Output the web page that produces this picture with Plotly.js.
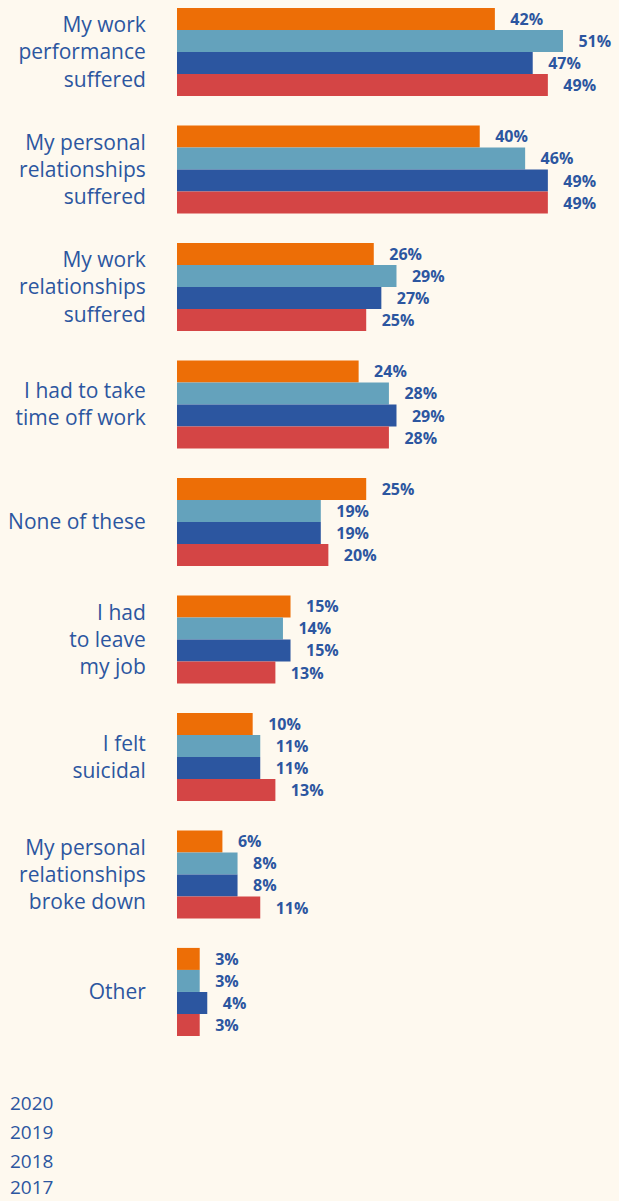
<!DOCTYPE html>
<html>
<head>
<meta charset="utf-8">
<script src="https://cdn.plot.ly/plotly-3.0.1.min.js"></script>
<style>html,body{margin:0;padding:0;background:#FEF9EF;}</style>
</head>
<body>
<div id="chart" style="width:619px;height:1201px;"></div>
<script>
const categories = [
  "My work<br>performance<br>suffered",
  "My personal<br>relationships<br>suffered",
  "My work<br>relationships<br>suffered",
  "I had to take<br>time off work",
  "None of these",
  "I had<br>to leave<br>my job",
  "I felt<br>suicidal",
  "My personal<br>relationships<br>broke down",
  "Other"
];
const years = ["2020", "2019", "2018", "2017"];
const v2020 = [42, 40, 26, 24, 25, 15, 10, 6, 3];
const v2019 = [51, 46, 29, 28, 19, 14, 11, 8, 3];
const v2018 = [47, 49, 27, 29, 19, 15, 11, 8, 4];
const v2017 = [49, 49, 25, 28, 20, 13, 13, 11, 3];

const seriesValues = [v2020, v2019, v2018, v2017];
const colors = ["#ED6E06", "#64A2BC", "#2C56A0", "#D44545"];
const textColor = "#2C56A0";
const font = "Open Sans, sans-serif";

const traces = seriesValues.map((vals, i) => ({
  type: "bar",
  orientation: "h",
  name: years[i],
  y: categories,
  x: vals,
  marker: {color: colors[i]},
  text: vals.map(v => "\u00a0\u00a0\u00a0" + v + "%"),
  texttemplate: "%{text}",
  textposition: "outside",
  cliponaxis: false,
  textfont: {family: font, size: 16, color: textColor, weight: 700},
  showlegend: false,
  hoverinfo: "skip"
}));

const plotH = 1060;
const legendPx = [1103, 1132, 1161, 1187];
const annotations = years.map((y, i) => ({
  text: y,
  xref: "paper", yref: "paper",
  x: -168 / 442, xanchor: "left",
  y: (plotH - legendPx[i]) / plotH, yanchor: "middle",
  showarrow: false,
  borderpad: 0,
  font: {family: font, size: 19, color: textColor}
}));

const layout = {
  width: 619, height: 1201,
  margin: {l: 177, r: 0, t: 0, b: 1201 - plotH},
  paper_bgcolor: "#FEF9EF",
  plot_bgcolor: "#FEF9EF",
  barmode: "group",
  bargap: 0.25,
  bargroupgap: 0,
  xaxis: {range: [0, 58.4], visible: false, fixedrange: true},
  yaxis: {
    type: "category",
    range: [8.579, -0.4426],
    showgrid: false, zeroline: false, showline: false,
    ticks: "outside", ticklen: 26, tickcolor: "rgba(0,0,0,0)",
    tickfont: {family: font, size: 21, color: textColor}
  },
  annotations: annotations
};

Plotly.newPlot("chart", traces, layout, {displayModeBar: false, staticPlot: true});
</script>
</body>
</html>
